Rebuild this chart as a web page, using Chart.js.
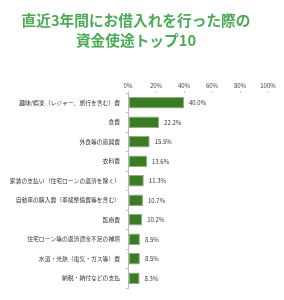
<!DOCTYPE html>
<html><head><meta charset="utf-8">
<script src="https://cdn.jsdelivr.net/npm/chart.js@4"></script>
<style>html,body{margin:0;padding:0;background:#fff;}#wrap{width:284px;height:300px;}</style>
</head><body><div id="wrap"><canvas id="c" width="284" height="300"></canvas></div>
<script>
const titleLines = ["直近3年間にお借入れを行った際の", "資金使途トップ10"];
const categories = [
  "趣味/娯楽（レジャー、旅行を含む）費",
  "食費",
  "外食等の遊興費",
  "衣料費",
  "家賃の支払い（住宅ローンの返済を除く）",
  "自動車の購入費（車検整備費等を含む）",
  "医療費",
  "住宅ローン等の返済資金不足の補填",
  "水道・光熱（電気・ガス等）費",
  "納税・納付などの支払"
];
const values = [40.0, 22.2, 15.5, 13.6, 11.3, 10.7, 10.2, 8.5, 8.5, 8.3];
const valueLabels = ["40.0%", "22.2%", "15.5%", "13.6%", "11.3%", "10.7%", "10.2%", "8.5%", "8.5%", "8.3%"];
const xTicks = [0, 20, 40, 60, 80, 100];

const FONT = "'Noto Sans CJK JP', 'Noto Sans', sans-serif";

const valueLabelPlugin = {
  id: 'valueLabels',
  afterDatasetsDraw(chart) {
    const ctx = chart.ctx;
    const meta = chart.getDatasetMeta(0);
    ctx.save();
    ctx.font = "6px " + FONT;
    ctx.fillStyle = '#333';
    ctx.textAlign = 'left';
    ctx.textBaseline = 'middle';
    meta.data.forEach((bar, i) => {
      ctx.fillText(valueLabels[i], bar.x + 5, bar.y);
    });
    ctx.restore();
  }
};

new Chart(document.getElementById('c'), {
  type: 'bar',
  data: {
    labels: categories,
    datasets: [{
      data: values,
      backgroundColor: '#3b7c22',
      borderColor: '#93ad88',
      borderWidth: 1,
      borderSkipped: false,
      categoryPercentage: 1,
      barPercentage: 0.58
    }]
  },
  options: {
    indexAxis: 'y',
    responsive: false,
    animation: false,
    layout: { padding: { left: 4, right: 16, top: 0, bottom: 12 } },
    plugins: {
      legend: { display: false },
      tooltip: { enabled: false },
      title: {
        display: true,
        text: titleLines,
        color: '#4caa57',
        font: { family: FONT, size: 14.7, weight: 'bold', lineHeight: 1.32 },
        padding: { top: 11, bottom: 30 }
      }
    },
    scales: {
      x: {
        position: 'top',
        min: 0, max: 100,
        afterBuildTicks(scale) { scale.ticks = xTicks.map(v => ({ value: v })); },
        ticks: {
          callback: v => v + '%',
          color: '#444',
          font: { family: FONT, size: 6 },
          padding: 2,
          maxRotation: 0
        },
        grid: { display: true, drawOnChartArea: false, tickLength: 2, color: '#ccc' },
        border: { display: false }
      },
      y: {
        afterFit(scale) { scale.width = 124; },
        ticks: {
          color: '#333',
          font: { family: FONT, size: 5.8 },
          padding: 6,
          autoSkip: false
        },
        grid: { display: true, offset: true, drawOnChartArea: false, tickLength: 2, color: '#bbb' },
        border: { display: true, color: '#bbb' }
      }
    }
  },
  plugins: [valueLabelPlugin]
});
</script>
</body></html>
